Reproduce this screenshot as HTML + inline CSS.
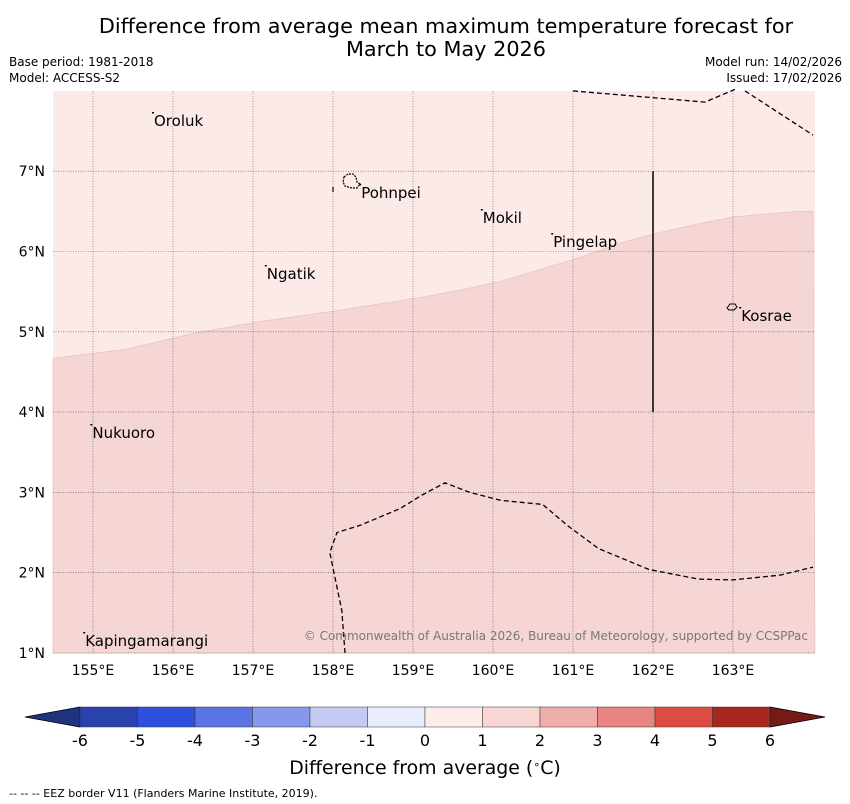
<!DOCTYPE html>
<html><head><meta charset="utf-8"><style>
body{margin:0;background:#fff;font-family:"Liberation Sans","DejaVu Sans",sans-serif;}
svg{display:block}
</style></head><body>
<svg width="850" height="804" font-family="DejaVu Sans, Liberation Sans, sans-serif">
<text x="446" y="33" font-size="20.8" text-anchor="middle">Difference from average mean maximum temperature forecast for</text>
<text x="446" y="56" font-size="20.8" text-anchor="middle">March to May 2026</text>
<text x="9" y="66" font-size="12">Base period: 1981-2018</text>
<text x="9" y="82" font-size="12">Model: ACCESS-S2</text>
<text x="842" y="66" font-size="12" text-anchor="end">Model run: 14/02/2026</text>
<text x="842" y="82" font-size="12" text-anchor="end">Issued: 17/02/2026</text>
<g id="map"></g>
<g id="cbar"></g>
<text x="425" y="774" font-size="18.9" text-anchor="middle">Difference from average (<tspan baseline-shift="super" font-size="11">∘</tspan>C)</text>
<text x="9" y="797" font-size="11">--  --  -- EEZ border V11 (Flanders Marine Institute, 2019).</text>
</svg>
<script>
const NS="http://www.w3.org/2000/svg";
const lonTicks=[155,156,157,158,159,160,161,162,163];
const latTicks=[1,2,3,4,5,6,7];
const islandNames=["Oroluk","Pohnpei","Mokil","Pingelap","Ngatik","Kosrae","Nukuoro","Kapingamarangi"];
const islandLon=[155.75,158.34,159.86,160.74,157.16,163.09,154.98,154.89];
const islandLat=[7.625,6.73,6.417,6.118,5.72,5.197,3.74,1.15];
const boundaryLon=[154.5,155.4,156.3,157.1,158.1,159.1,159.6,160.1,160.6,161.1,161.6,162.1,162.6,163.0,163.8,164.0];
const boundaryLat=[4.67,4.78,4.99,5.13,5.27,5.43,5.52,5.63,5.78,5.93,6.11,6.24,6.35,6.43,6.5,6.5];
const eez1Lon=[161.0,162.65,163.05];const eez1Lat=[8.0,7.86,8.03];
const eez2Lon=[163.15,164.0];const eez2Lat=[8.0,7.45];
const eez3Lon=[158.15,158.11,157.96,158.05,158.34,158.84,159.1,159.4,159.71,160.1,160.62,160.94,161.32,161.95,162.57,163.0,163.59,164.0];
const eez3Lat=[1.0,1.53,2.25,2.5,2.59,2.8,2.96,3.12,3.0,2.9,2.85,2.58,2.3,2.04,1.92,1.91,1.97,2.07];
const cbLevels=[-6,-5,-4,-3,-2,-1,0,1,2,3,4,5,6];
const cbColors=["#2a42ad","#2f50df","#5a75e3","#8599ec","#c3cbf3","#eaedfb","#fcecea","#f7d6d4","#efaeaa","#e88580","#dd4b42","#a8281f"];
const X=lon=>93+80*(lon-155), Y=lat=>653-80.3*(lat-1);
const map=document.getElementById('map');
function el(t,a,p){const e=document.createElementNS(NS,t);for(const k in a)e.setAttribute(k,a[k]);(p||map).appendChild(e);return e;}
const bg=el('rect',{x:53,y:91,width:762,height:562,fill:'#fbeae8'});


let d='M53 653 ';boundaryLon.forEach((l,i)=>d+='L'+X(l).toFixed(1)+' '+Y(boundaryLat[i]).toFixed(1)+' ');d+='L815 653Z';
const warm=el('path',{d:d,fill:'#f5d6d4',stroke:'#e8c0bd','stroke-width':0.7});


lonTicks.forEach(l=>{const g=el('line',{x1:X(l),x2:X(l),y1:91,y2:653,stroke:'#555','stroke-width':0.6,'stroke-dasharray':'1 1.5'});


const t=el('text',{x:X(l),y:675,'font-size':14,'text-anchor':'middle'});t.textContent=l+'°E';

});
latTicks.forEach(l=>{const g=el('line',{x1:53,x2:815,y1:Y(l),y2:Y(l),stroke:'#555','stroke-width':0.6,'stroke-dasharray':'1 1.5'});


const t=el('text',{x:45,y:Y(l)+5,'font-size':14,'text-anchor':'end'});t.textContent=l+'°N';

});
[[eez1Lon,eez1Lat],[eez2Lon,eez2Lat],[eez3Lon,eez3Lat]].forEach(([lo,la])=>{
const p=el('polyline',{points:lo.map((l,i)=>X(l).toFixed(1)+','+Y(la[i]).toFixed(1)).join(' '),fill:'none',stroke:'#000','stroke-width':1.3,'stroke-dasharray':'5 3'});

});
const vl=el('line',{x1:X(162),x2:X(162),y1:Y(7),y2:Y(4),stroke:'#000','stroke-width':1.5});


const pp=el('path',{d:'M344 177 l4-3 5 0 3 3 1 5 3 2-3 4-5 0-4-1-3-1-2-4z',fill:'none',stroke:'#000','stroke-width':1.2,'stroke-dasharray':'2 1'});


const pd=el('line',{x1:333,y1:187,x2:333,y2:192,stroke:'#000','stroke-width':1.2});


const kp=el('path',{d:'M727 308 l3-4 5 0 2 3-3 3-5 0z',fill:'none',stroke:'#000','stroke-width':1});


islandNames.forEach((n,i)=>{const x=X(islandLon[i]),y=Y(islandLat[i]);
const m=el('rect',{x:x-1,y:y-9,width:2,height:1.5,fill:'#000'});


const t=el('text',{x:x+1,y:y+5,'font-size':15});t.textContent=n;

});
const cr=el('text',{x:808,y:640,'font-size':12,'text-anchor':'end',fill:'#777'});cr.textContent='© Commonwealth of Australia 2026, Bureau of Meteorology, supported by CCSPPac';


const cb=document.getElementById('cbar');
const CX=v=>425+57.5*v, cy=707, ch=20;
const lt=el('polygon',{points:`${CX(-6)},${cy} 25,${cy+ch/2} ${CX(-6)},${cy+ch}`,fill:'#1f3380',stroke:'#000','stroke-width':0.8},cb);


const rt=el('polygon',{points:`${CX(6)},${cy} 825,${cy+ch/2} ${CX(6)},${cy+ch}`,fill:'#751b16',stroke:'#000','stroke-width':0.8},cb);


cbColors.forEach((c,i)=>{const r=el('rect',{x:CX(cbLevels[i]),y:cy,width:CX(cbLevels[i+1])-CX(cbLevels[i]),height:ch,fill:c,stroke:'#333','stroke-width':0.5},cb);

});
cbLevels.forEach(v=>{const t=el('text',{x:CX(v),y:746,'font-size':16,'text-anchor':'middle'},cb);t.textContent=v;

});
</script>
</body></html>
